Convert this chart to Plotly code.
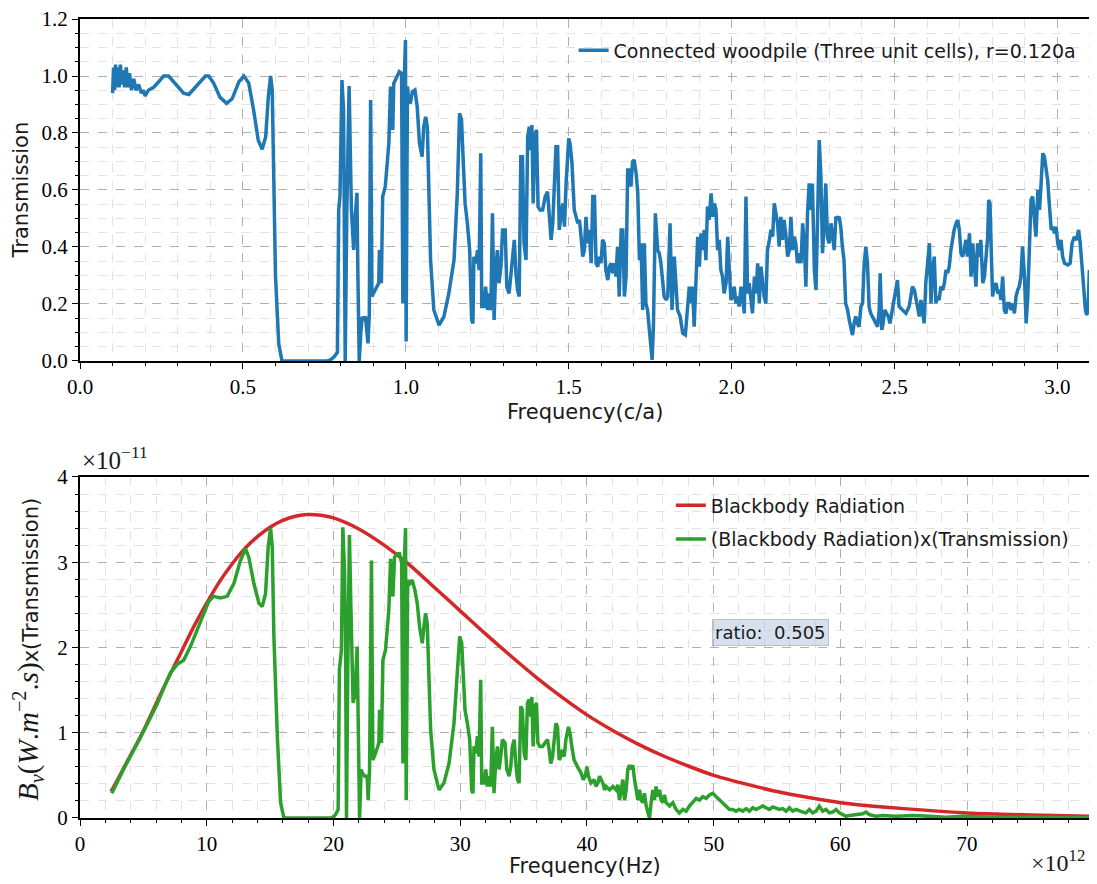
import plotly.graph_objects as go

# ---------------- Top panel: transmission vs frequency (c/a) ----------------
top_freq = [
    0.100,0.103,0.106,0.109,0.112,0.116,0.120,0.124,0.128,0.132,
    0.137,0.142,0.147,0.152,0.158,0.165,0.172,0.180,0.188,0.195,
    0.200,0.210,0.226,0.240,0.257,0.272,0.288,0.318,0.334,0.360,
    0.385,0.395,0.410,0.430,0.450,0.467,0.488,0.503,0.518,0.533,
    0.547,0.559,0.570,0.578,0.585,0.590,0.595,0.600,0.610,0.620,
    0.700,0.760,0.770,0.780,0.790,
    0.794,0.798,0.804,0.809,0.814,0.819,0.826,0.833,0.837,0.840,
    0.845,0.850,0.853,0.857,0.862,0.866,0.871,0.876,0.884,0.888,
    0.892,0.896,0.906,0.917,0.919,0.925,0.929,0.937,0.948,0.953,
    0.960,0.963,0.973,0.980,0.987,0.989,0.991,0.993,0.995,0.999,
    1.001,1.005,1.009,1.014,1.020,1.028,1.035,1.042,1.050,1.055,
    1.061,1.066,1.071,1.076,1.086,1.102,1.117,1.132,1.148,1.158,
    1.165,1.171,1.177,1.182,1.189,1.196,1.202,1.206,1.209,1.215,
    1.220,1.225,1.230,1.233,1.240,1.245,1.251,1.256,1.261,1.266,
    1.271,1.276,1.281,1.286,1.292,1.297,1.305,1.310,1.317,1.322,
    1.328,1.333,1.338,1.343,1.348,1.353,1.358,1.363,1.369,1.374,
    1.379,1.384,1.387,1.391,1.396,1.401,1.406,1.412,1.420,1.428,
    1.435,1.440,1.446,1.451,1.456,1.461,1.466,1.471,1.476,1.482,
    1.487,1.492,1.500,1.504,1.510,1.517,1.528,
    1.533,1.538,1.543,1.548,1.553,1.558,1.563,1.569,1.574,1.579,
    1.584,1.589,1.594,1.599,1.604,1.609,1.614,1.620,1.625,1.630,
    1.635,1.640,1.645,1.650,1.655,1.661,1.666,1.671,1.676,1.681,
    1.686,1.691,1.696,1.701,1.707,1.712,1.717,1.722,1.727,1.732,
    1.737,1.742,1.747,1.753,1.756,1.760,1.766,1.773,1.778,1.783,
    1.788,1.793,1.799,1.804,1.811,1.817,1.824,1.829,1.834,1.842,
    1.850,1.858,1.865,1.870,1.875,1.880,1.885,1.891,1.896,1.901,
    1.906,1.911,1.916,1.921,1.926,1.931,1.937,1.942,1.947,1.952,
    1.957,1.962,1.967,1.972,1.977,1.983,1.988,1.993,1.998,2.003,
    2.008,2.013,2.018,2.023,2.029,2.034,2.039,2.044,2.049,2.054,
    2.059,2.064,2.070,2.075,2.080,2.085,2.090,2.095,2.100,2.105,
    2.110,2.116,2.121,2.126,2.131,2.136,2.141,2.146,2.151,2.156,
    2.161,2.167,2.172,2.177,2.182,2.187,2.192,2.197,2.202,2.207,
    2.213,2.218,2.223,2.228,2.233,2.238,2.243,2.248,2.254,2.259,
    2.264,2.269,2.274,2.279,2.284,2.289,2.294,2.299,2.305,2.310,
    2.315,2.320,2.325,2.330,2.335,2.340,
    2.345,2.350,2.356,2.361,2.366,2.371,2.376,2.381,2.386,2.391,
    2.397,2.402,2.407,2.412,2.417,2.422,2.427,2.432,2.438,2.443,
    2.448,2.453,2.456,2.461,2.465,2.470,2.475,2.481,2.486,2.491,
    2.496,2.502,2.509,2.514,2.525,2.535,2.545,2.555,2.561,2.568,
    2.576,2.581,2.586,2.591,2.596,2.602,2.607,2.612,2.617,2.622,
    2.627,2.632,2.637,2.642,2.648,2.653,2.658,2.663,2.668,2.673,
    2.678,2.683,2.689,2.694,2.699,2.704,2.709,2.714,2.719,2.724,
    2.730,2.735,2.740,2.745,2.750,2.755,2.760,2.765,2.771,2.776,
    2.781,2.786,2.789,2.793,2.798,2.801,2.806,2.812,2.817,2.822,
    2.827,2.832,2.837,2.842,2.847,2.852,2.858,2.863,2.868,2.873,
    2.878,2.883,2.888,2.893,2.899,2.904,2.909,2.914,2.919,2.924,
    2.929,2.934,2.940,2.945,2.950,2.955,2.960,2.965,2.970,2.975,
    2.981,2.986,2.991,2.996,3.001,3.006,3.011,3.016,3.022,3.032,
    3.039,3.045,3.052,3.059,3.065,3.070,3.075,3.080,3.086,3.090,
    3.094,3.098,
]
top_trans = [
    0.94,1.03,0.95,1.04,0.96,1.03,0.96,1.04,0.97,1.02,
    0.96,1.03,0.96,1.01,0.95,0.99,0.95,0.97,0.94,0.95,
    0.93,0.95,0.96,0.98,1.00,1.00,0.98,0.94,0.935,0.97,
    1.00,1.00,0.975,0.925,0.904,0.92,0.98,1.00,0.975,0.88,
    0.775,0.743,0.787,0.927,1.00,0.95,0.65,0.30,0.06,0.0,
    0.0,0.0,0.005,0.015,0.03,
    0.53,0.58,0.986,0.88,0.0,0.53,0.965,0.53,0.44,0.39,
    0.51,0.59,0.30,0.0,0.10,0.155,0.144,0.156,0.062,0.167,
    0.916,0.226,0.249,0.273,0.389,0.273,0.577,0.612,0.764,0.963,
    0.811,0.974,0.998,1.015,1.009,0.60,0.202,0.90,0.998,1.126,
    0.068,0.963,0.916,0.904,0.945,0.951,0.892,0.764,0.717,0.822,
    0.857,0.822,0.588,0.354,0.179,0.126,0.156,0.237,0.354,0.588,
    0.869,0.846,0.682,0.553,0.483,0.389,0.144,0.132,0.366,0.343,
    0.389,0.319,0.729,0.191,0.191,0.261,0.179,0.237,0.179,0.518,
    0.144,0.319,0.389,0.273,0.331,0.46,0.46,0.261,0.237,0.296,
    0.389,0.425,0.308,0.249,0.226,0.717,0.717,0.413,0.354,0.787,
    0.822,0.74,0.828,0.553,0.787,0.811,0.542,0.53,0.53,0.577,
    0.594,0.53,0.425,0.483,0.647,0.752,0.752,0.46,0.506,0.553,
    0.471,0.623,0.781,0.764,0.694,0.53,0.483,
    0.495,0.436,0.366,0.389,0.506,0.413,0.46,0.343,0.577,0.577,
    0.343,0.331,0.366,0.343,0.425,0.413,0.319,0.284,0.331,0.343,
    0.308,0.343,0.296,0.401,0.226,0.46,0.46,0.226,0.296,0.67,
    0.67,0.612,0.699,0.705,0.658,0.588,0.354,0.413,0.179,0.413,
    0.202,0.179,0.12,0.027,0.004,0.12,0.518,0.389,0.378,0.343,
    0.273,0.226,0.214,0.226,0.483,0.179,0.366,0.284,0.179,0.156,
    0.097,0.091,0.179,0.261,0.202,0.261,0.12,0.319,0.436,0.331,
    0.448,0.389,0.46,0.354,0.542,0.495,0.588,0.506,0.553,0.53,
    0.389,0.425,0.319,0.296,0.237,0.273,0.436,0.319,0.214,0.226,
    0.261,0.202,0.226,0.191,0.261,0.214,0.167,0.577,0.237,0.273,
    0.202,0.167,0.296,0.237,0.343,0.202,0.331,0.261,0.226,0.202,
    0.389,0.425,0.46,0.436,0.553,0.518,0.483,0.401,0.506,0.425,
    0.495,0.436,0.366,0.389,0.506,0.389,0.436,0.413,0.343,0.378,
    0.343,0.483,0.413,0.261,0.518,0.623,0.53,0.623,0.319,0.249,
    0.53,0.775,0.647,0.378,0.483,0.623,0.436,0.413,0.483,0.436,
    0.389,0.506,0.501,0.506,0.471,0.401,
    0.354,0.202,0.179,0.144,0.109,0.091,0.132,0.156,0.132,0.12,
    0.191,0.202,0.343,0.401,0.343,0.191,0.167,0.156,0.144,0.132,
    0.12,0.179,0.308,0.109,0.132,0.179,0.167,0.156,0.132,0.167,
    0.202,0.226,0.284,0.191,0.179,0.167,0.191,0.261,0.249,0.202,
    0.156,0.214,0.167,0.132,0.273,0.343,0.413,0.202,0.319,0.366,
    0.202,0.226,0.214,0.261,0.249,0.273,0.319,0.308,0.331,0.389,
    0.436,0.46,0.483,0.495,0.46,0.378,0.366,0.389,0.425,0.366,
    0.448,0.296,0.413,0.331,0.261,0.413,0.366,0.425,0.273,0.296,
    0.366,0.436,0.565,0.553,0.343,0.226,0.261,0.273,0.237,0.249,
    0.214,0.296,0.179,0.167,0.202,0.202,0.179,0.202,0.167,0.226,
    0.249,0.261,0.296,0.401,0.296,0.132,0.226,0.413,0.565,0.577,
    0.506,0.436,0.60,0.53,0.623,0.729,0.717,0.682,0.635,0.553,
    0.46,0.471,0.448,0.471,0.413,0.389,0.425,0.366,0.343,0.337,
    0.343,0.413,0.436,0.425,0.46,0.413,0.343,0.273,0.179,0.161,
    0.179,0.319,
]

# ---------------- Bottom panel (x in units of 1e12 Hz, y in units of 1e-11) ----------------
bb_freq = [2.45, 3, 4, 5, 6, 7, 8, 9, 10, 11,
           12, 13, 14, 15, 16, 17, 18, 19, 20, 22,
           24, 26, 28, 30, 32, 34, 36, 38, 40, 42,
           44, 46, 48, 50, 52.5, 55, 57.5, 60, 65, 70,
           75, 79.7]
bb_rad = [0.31, 0.46, 0.74, 1.02, 1.34, 1.65, 1.95, 2.25, 2.52, 2.77,
          2.98, 3.16, 3.30, 3.41, 3.49, 3.54, 3.56, 3.55, 3.52, 3.39,
          3.20, 2.97, 2.70, 2.43, 2.16, 1.90, 1.65, 1.42, 1.21, 1.03,
          0.87, 0.73, 0.61, 0.50, 0.40, 0.31, 0.24, 0.18, 0.11, 0.06,
          0.035, 0.02]

bt_freq = [
    2.51,3.43,4.75,6.07,6.60,7.12,7.65,8.18,8.71,9.23,
    9.76,10.16,10.55,11.08,11.61,12.14,12.66,13.06,13.32,13.72,
    14.12,14.38,14.64,14.85,15.04,15.17,15.30,15.57,15.83,16.09,
    19.79,20.05,
    20.16,20.37,20.47,20.63,20.74,20.87,20.95,21.03,21.13,21.26,
    21.37,21.48,21.55,21.66,21.74,21.87,21.95,22.06,22.19,22.27,
    22.48,22.66,22.74,22.85,23.00,23.11,23.32,23.58,23.64,23.79,
    23.90,24.11,24.37,24.51,24.69,24.82,25.03,25.22,25.38,25.48,
    25.59,25.69,25.74,25.85,26.01,26.22,26.43,26.61,26.80,27.01,
    27.14,27.27,27.40,27.54,27.67,27.93,28.33,28.72,29.12,29.51,
    29.78,29.96,30.12,30.25,30.38,30.57,30.75,30.91,31.01,31.09,
    31.23,31.36,31.49,31.62,31.70,31.88,32.02,32.15,32.28,32.41,
    32.54,32.67,32.81,32.94,33.07,33.20,33.33,33.54,33.68,33.86,
    33.99,34.12,34.26,34.39,34.52,34.65,34.78,34.91,35.05,35.18,
    35.31,35.44,35.57,35.65,35.76,35.89,36.02,36.13,36.28,36.50,
    36.71,36.89,37.02,37.15,37.29,37.42,37.55,37.68,37.81,37.94,
    38.08,38.21,38.34,38.55,38.66,38.81,38.99,39.26,39.53,39.71,
    39.87,40.00,40.13,40.32,40.58,40.71,
    40.87,41.00,41.13,41.26,41.39,41.52,41.79,42.05,42.31,42.44,
    42.57,42.71,42.84,42.97,43.10,43.23,43.36,43.49,43.62,43.76,
    43.89,44.02,44.15,44.28,44.41,44.54,44.68,44.81,44.94,45.07,
    45.20,45.33,45.46,45.60,45.73,45.86,45.99,46.12,46.25,46.52,
    46.78,47.04,47.30,47.57,47.83,48.09,48.36,48.62,48.88,49.14,
    49.41,49.67,49.93,50.20,50.46,50.72,50.98,51.25,51.51,51.77,
    52.03,52.30,52.56,52.82,53.09,53.35,53.61,53.87,54.14,54.40,
    54.66,54.93,55.19,55.45,55.71,55.98,56.24,56.50,56.77,57.03,
    57.29,57.55,57.82,58.08,58.34,58.61,58.87,59.13,59.39,59.66,
    59.92,60.18,60.45,
    60.71,61.24,61.76,62.03,62.29,62.82,63.34,64.39,65.71,67.03,
    68.34,69.66,70.97,72.29,73.61,74.92,77.55,79.66,
]
bt_rad = [
    0.29,0.57,0.94,1.33,1.52,1.70,1.80,1.85,2.01,2.20,
    2.40,2.54,2.60,2.58,2.60,2.75,3.02,3.16,3.06,2.75,
    2.52,2.48,2.63,3.18,3.40,3.18,2.13,0.96,0.18,0.0,
    0.0,0.02,
    0.04,0.10,1.74,1.97,3.41,2.91,2.13,0.0,1.74,3.32,
    2.52,1.74,1.35,1.42,1.58,2.01,0.96,0.0,0.57,0.53,
    0.49,0.49,0.21,0.57,3.02,0.68,0.76,0.88,1.27,0.88,
    1.85,1.97,2.44,3.04,2.60,3.06,3.10,3.10,2.99,0.64,
    2.99,3.40,0.21,2.79,2.75,2.79,2.67,2.52,2.24,2.05,
    2.24,2.40,2.28,1.66,1.03,0.57,0.33,0.41,0.64,1.11,
    1.81,2.13,2.05,1.54,1.27,1.11,0.92,0.33,0.29,0.84,
    0.76,0.96,0.72,1.62,0.41,0.41,0.57,0.37,0.49,0.37,
    1.07,0.29,0.68,0.84,0.57,0.72,0.92,0.88,0.57,0.49,
    0.60,0.84,0.92,0.64,0.45,0.41,1.31,1.27,0.76,0.68,
    1.35,1.39,1.19,1.42,0.84,1.31,1.35,0.88,0.84,0.84,
    0.88,0.92,0.80,0.64,0.72,0.96,1.11,1.07,0.68,0.72,
    0.80,0.72,0.92,1.07,1.00,0.84,0.68,0.60,0.53,0.45,
    0.49,0.60,0.49,0.41,0.45,0.37,
    0.41,0.49,0.45,0.41,0.33,0.37,0.33,0.37,0.33,0.39,
    0.21,0.33,0.45,0.21,0.33,0.57,0.62,0.57,0.62,0.45,
    0.33,0.21,0.33,0.21,0.18,0.29,0.14,0.06,0.0,0.18,
    0.33,0.21,0.37,0.25,0.33,0.21,0.18,0.27,0.18,0.14,
    0.18,0.10,0.06,0.10,0.08,0.14,0.18,0.23,0.21,0.25,
    0.23,0.27,0.29,0.25,0.21,0.18,0.14,0.10,0.10,0.08,
    0.10,0.08,0.11,0.08,0.12,0.10,0.12,0.14,0.12,0.10,
    0.13,0.12,0.10,0.11,0.08,0.12,0.08,0.10,0.08,0.07,
    0.06,0.10,0.06,0.08,0.14,0.08,0.10,0.06,0.07,0.10,
    0.06,0.04,0.02,
    0.03,0.04,0.05,0.07,0.04,0.02,0.03,0.02,0.03,0.02,
    0.01,0.02,0.01,0.01,0.01,0.005,0.005,0.005,
]

top_xticks = [0.0, 0.5, 1.0, 1.5, 2.0, 2.5, 3.0]
top_yticks = [0.0, 0.2, 0.4, 0.6, 0.8, 1.0, 1.2]
bot_xticks = [0, 10, 20, 30, 40, 50, 60, 70]
bot_yticks = [0, 1, 2, 3, 4]

SERIF = "Liberation Serif"
SANS = "DejaVu Sans"
MAJ_GRID = "#b0b0b0"
MIN_GRID = "#e2e2e2"
LW = 3.5

fig = go.Figure()
fig.add_trace(go.Scatter(x=top_freq, y=top_trans, mode="lines",
                         line=dict(color="#1f77b4", width=LW),
                         name="Connected woodpile (Three unit cells), r=0.120a",
                         showlegend=True, xaxis="x", yaxis="y", legend="legend"))
fig.add_trace(go.Scatter(x=bb_freq, y=bb_rad, mode="lines",
                         line=dict(color="#d62728", width=LW, shape="spline", smoothing=0.8),
                         name="Blackbody Radiation", legendgroup="bb",
                         showlegend=True, xaxis="x2", yaxis="y2", legend="legend2"))
fig.add_trace(go.Scatter(x=bt_freq, y=bt_rad, mode="lines",
                         line=dict(color="#2ca02c", width=LW),
                         name="(Blackbody Radiation)x(Transmission)", legendgroup="bt",
                         showlegend=True, xaxis="x2", yaxis="y2", legend="legend2"))


def axis_style(rng, vals, fmt, minor_dtick, domain, anchor):
    return dict(
        range=rng, domain=domain, anchor=anchor, automargin=False,
        tickmode="array", tickvals=vals, ticktext=[fmt.format(v) for v in vals],
        ticks="outside", ticklen=6, tickwidth=1.3, tickcolor="black",
        ticklabeloverflow="allow",
        showline=True, linecolor="black", linewidth=2, mirror=True,
        showgrid=True, gridcolor=MAJ_GRID, griddash="dash", gridwidth=1,
        zeroline=False,
        tickfont=dict(family=SERIF, size=21, color="black"),
        minor=dict(dtick=minor_dtick, ticks="outside", ticklen=3, tickcolor="black",
                   showgrid=True, gridcolor=MIN_GRID, griddash="dash", gridwidth=1),
    )


TOP_DOM = [0.572, 1.0]
BOT_DOM = [0.0, 0.4268]

# the page body adds an 8px offset, so the figure is 8px smaller and margins compensate
fig.update_layout(
    width=1089, height=876,
    margin=dict(l=72, r=7, t=11, b=66, autoexpand=False),
    paper_bgcolor="white", plot_bgcolor="white",
    showlegend=True,
    font=dict(family=SANS, size=19, color="#1a1a1a"),
    xaxis=axis_style([0, 3.1], top_xticks, "{:.1f}", 0.1, [0, 1], "y"),
    yaxis=axis_style([0, 1.2], top_yticks, "{:.1f}", 0.05, TOP_DOM, "x"),
    xaxis2=axis_style([0, 79.7], bot_xticks, "{:d}", 2, [0, 1], "y2"),
    yaxis2=axis_style([0, 4], bot_yticks, "{:d}", 0.2, BOT_DOM, "x2"),
    legend=dict(x=0.4887, y=0.9845, xanchor="left", yanchor="top",
                bgcolor="rgba(255,255,255,0)", font=dict(family=SANS, size=19, color="#1a1a1a")),
    legend2=dict(x=0.585, y=0.415, xanchor="left", yanchor="top",
                 bgcolor="rgba(255,255,255,0)", font=dict(family=SANS, size=19, color="#1a1a1a"),
                 tracegroupgap=6),
)

ann = [
    dict(text="Frequency(c/a)", x=0.5, y=0.508, xref="paper", yref="paper",
         showarrow=False, xanchor="center", yanchor="middle", font=dict(family=SANS, size=21)),
    dict(text="Transmission", x=-0.058, y=0.786, xref="paper", yref="paper", textangle=-90,
         showarrow=False, xanchor="center", yanchor="middle", font=dict(family=SANS, size=21)),
    dict(text="Frequency(Hz)", x=0.5, y=-0.06, xref="paper", yref="paper",
         showarrow=False, xanchor="center", yanchor="middle", font=dict(family=SANS, size=21)),
    dict(text=('<span style="font-family:Liberation Serif;font-size:29px"><i>B</i><sub><i>ν</i></sub>'
               '(<i>W</i>.<i>m</i><sup>−2</sup>.<i>s</i>)</span>x(Transmission)'),
         x=-0.051, y=0.211, xref="paper", yref="paper", textangle=-90,
         showarrow=False, xanchor="center", yanchor="middle", font=dict(family=SANS, size=21)),
    dict(text="×10<sup>−11</sup>", x=0.0, y=0.428, xref="paper", yref="paper",
         showarrow=False, xanchor="left", yanchor="bottom", font=dict(family=SERIF, size=25)),
    dict(text="×10<sup>12</sup>", x=0.997, y=-0.033, xref="paper", yref="paper",
         showarrow=False, xanchor="right", yanchor="top", font=dict(family=SERIF, size=24)),
    dict(text="ratio:  0.505", x=49.9, y=2.17, xref="x2", yref="y2",
         showarrow=False, xanchor="left", yanchor="middle",
         bgcolor="rgba(176,196,222,0.5)", bordercolor="rgba(160,160,160,0.6)", borderwidth=1,
         borderpad=2, font=dict(family=SANS, size=18, color="#1a1a1a")),
]
fig.update_layout(annotations=ann)

fig.write_html("out.html")
